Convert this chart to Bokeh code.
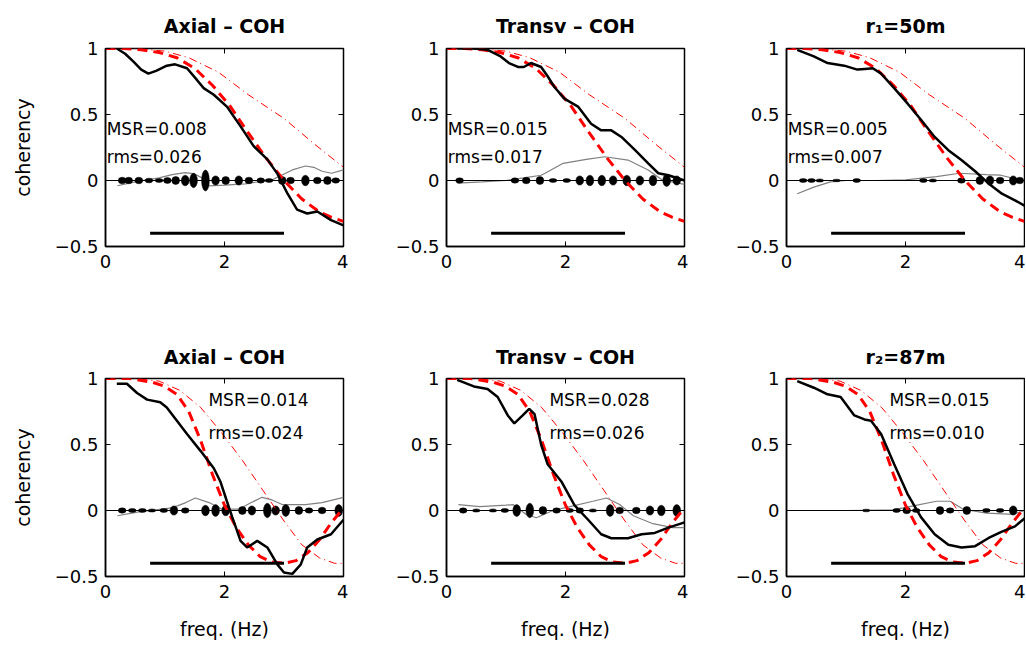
from bokeh.plotting import figure
from bokeh.layouts import column, row
from bokeh.models import Range1d, FixedTicker, Span
from bokeh.embed import file_html
from bokeh.resources import INLINE
from bokeh.core.properties import value

# ---------------- data ----------------
x_ticks = [0, 2, 4]
y_ticks = [-0.5, 0, 0.5, 1]
y_tick_labels = {-0.5: "\u22120.5", 0: "0", 0.5: "0.5", 1: "1"}

titles = ["Axial \u2013 COH", "Transv \u2013 COH", "r\u2081=50m",
          "Axial \u2013 COH", "Transv \u2013 COH", "r\u2082=87m"]
msr_labels = ["MSR=0.008", "MSR=0.015", "MSR=0.005", "MSR=0.014", "MSR=0.028", "MSR=0.015"]
rms_labels = ["rms=0.026", "rms=0.017", "rms=0.007", "rms=0.024", "rms=0.026", "rms=0.010"]

band_lo, band_hi, band_level = 0.75, 3.0, -0.4

# model curves (red dashed = fit, red dash-dot = alternative) for r1 and r2
fit_r1_x = [0, 0.3, 0.6, 0.9, 1.2, 1.5, 1.8, 2.1, 2.4, 2.7, 3.0, 3.3, 3.6, 3.8, 4.0]
fit_r1_y = [1.0, 1.0, 0.99, 0.97, 0.93, 0.85, 0.72, 0.56, 0.36, 0.17, 0.0, -0.14, -0.24, -0.28, -0.31]
alt_r1_x = [0, 0.5, 1.0, 1.4, 1.9, 2.4, 3.0, 3.5, 4.0]
alt_r1_y = [1.0, 1.0, 0.98, 0.93, 0.82, 0.65, 0.47, 0.28, 0.10]

fit_r2_x = [0, 0.4, 0.8, 1.0, 1.2, 1.4, 1.6, 1.8, 2.0, 2.2, 2.4, 2.6, 2.8, 3.0, 3.2, 3.4, 3.6, 3.8, 4.0]
fit_r2_y = [1.0, 1.0, 0.97, 0.94, 0.88, 0.75, 0.53, 0.27, 0.04, -0.13, -0.26, -0.35, -0.39, -0.40, -0.38, -0.32, -0.22, -0.09, 0.02]
alt_r2_x = [0, 0.5, 0.9, 1.25, 1.6, 1.95, 2.3, 2.65, 3.0, 3.3, 3.6, 3.85, 4.0]
alt_r2_y = [1.0, 1.0, 0.98, 0.91, 0.78, 0.59, 0.38, 0.15, -0.08, -0.26, -0.36, -0.40, -0.40]

# observed coherency (black)
obs1_x = [0.19, 0.33, 0.47, 0.60, 0.72, 0.85, 1.03, 1.17, 1.37, 1.54, 1.65, 1.82, 2.04, 2.27, 2.49, 2.72, 2.89, 3.06, 3.22, 3.39, 3.56, 3.79, 4.0]
obs1_y = [1.0, 0.96, 0.90, 0.84, 0.81, 0.83, 0.87, 0.88, 0.85, 0.76, 0.70, 0.65, 0.56, 0.41, 0.26, 0.16, 0.05, -0.10, -0.22, -0.25, -0.235, -0.30, -0.34]
obs2_x = [0.18, 0.45, 0.69, 0.91, 1.05, 1.2, 1.3, 1.42, 1.59, 1.7, 1.81, 1.98, 2.21, 2.43, 2.60, 2.77, 2.94, 3.17, 3.39, 3.56, 3.73, 4.0]
obs2_y = [1.0, 1.0, 0.99, 0.94, 0.89, 0.86, 0.86, 0.89, 0.86, 0.79, 0.71, 0.62, 0.56, 0.43, 0.38, 0.38, 0.33, 0.23, 0.13, 0.055, 0.04, 0.0]
obs3_x = [0.18, 0.46, 0.69, 0.97, 1.19, 1.32, 1.45, 1.59, 1.81, 2.04, 2.26, 2.49, 2.72, 2.94, 3.17, 3.39, 3.62, 3.84, 4.0]
obs3_y = [0.99, 0.94, 0.89, 0.87, 0.84, 0.845, 0.85, 0.81, 0.70, 0.58, 0.46, 0.33, 0.23, 0.155, 0.07, -0.02, -0.10, -0.15, -0.19]
obs4_x = [0.19, 0.36, 0.53, 0.70, 0.92, 1.03, 1.20, 1.37, 1.60, 1.82, 1.93, 2.04, 2.13, 2.27, 2.38, 2.55, 2.72, 2.89, 3.0, 3.14, 3.28, 3.39, 3.56, 3.79, 4.0]
obs4_y = [0.96, 0.96, 0.89, 0.84, 0.82, 0.78, 0.68, 0.58, 0.45, 0.32, 0.22, 0.07, -0.05, -0.23, -0.28, -0.23, -0.28, -0.41, -0.47, -0.48, -0.41, -0.28, -0.22, -0.18, -0.07]
obs5_x = [0.18, 0.46, 0.69, 0.86, 1.03, 1.14, 1.28, 1.39, 1.48, 1.59, 1.70, 1.93, 2.15, 2.38, 2.60, 2.77, 3.05, 3.28, 3.5, 3.73, 4.0]
obs5_y = [0.99, 0.94, 0.92, 0.86, 0.72, 0.66, 0.72, 0.77, 0.73, 0.50, 0.35, 0.22, 0.04, -0.07, -0.18, -0.21, -0.21, -0.18, -0.17, -0.13, -0.09]
obs6_x = [0.18, 0.46, 0.69, 0.91, 1.14, 1.31, 1.42, 1.59, 1.81, 2.04, 2.26, 2.49, 2.72, 2.94, 3.17, 3.39, 3.62, 3.84, 4.0]
obs6_y = [0.98, 0.93, 0.88, 0.86, 0.72, 0.69, 0.68, 0.58, 0.35, 0.12, -0.05, -0.18, -0.26, -0.28, -0.27, -0.21, -0.16, -0.12, -0.06]

# residual (gray)
res1_x = [0.2, 0.56, 0.9, 1.12, 1.34, 1.5, 1.62, 1.74, 2.0, 2.35, 2.8, 3.14, 3.36, 3.5, 3.64, 3.8, 4.0]
res1_y = [-0.04, -0.005, 0.02, 0.045, 0.06, 0.05, 0.02, -0.04, -0.035, -0.025, 0.005, 0.08, 0.11, 0.10, 0.07, 0.055, 0.08]
res2_x = [0.18, 0.6, 1.0, 1.3, 1.59, 1.68, 1.96, 2.35, 2.66, 3.05, 3.39, 3.62, 4.0]
res2_y = [-0.02, -0.01, 0.0, 0.02, 0.04, 0.06, 0.13, 0.16, 0.18, 0.155, 0.08, 0.005, -0.03]
res3_x = [0.18, 0.46, 0.74, 1.0, 1.5, 2.0, 2.52, 2.91, 3.36, 3.6, 3.92, 4.0]
res3_y = [-0.10, -0.05, -0.01, 0.0, 0.0, 0.005, 0.03, 0.055, 0.045, 0.04, 0.005, 0.0]
res4_x = [0.2, 0.56, 1.12, 1.35, 1.51, 1.74, 1.96, 2.24, 2.45, 2.63, 2.8, 2.97, 3.36, 3.64, 4.0]
res4_y = [-0.04, -0.01, 0.02, 0.06, 0.095, 0.06, 0.01, 0.01, 0.06, 0.10, 0.08, 0.045, 0.045, 0.06, 0.10]
res5_x = [0.2, 0.56, 1.0, 1.12, 1.34, 1.51, 1.79, 2.13, 2.46, 2.69, 2.91, 3.14, 3.47, 3.8, 4.0]
res5_y = [0.045, 0.03, 0.04, 0.045, -0.03, -0.055, 0.0, 0.035, 0.07, 0.095, 0.045, -0.04, -0.10, -0.13, -0.13]
res6_x = [0.2, 1.0, 1.8, 2.13, 2.52, 2.75, 2.97, 3.36, 3.81, 4.0]
res6_y = [0.0, 0.0, 0.005, 0.035, 0.07, 0.07, 0.01, -0.02, -0.03, 0.0]

# signal bursts around zero (centre frequency, half amplitude)
burst1_x = [0.28, 0.39, 0.56, 0.73, 0.90, 1.04, 1.18, 1.34, 1.48, 1.68, 1.85, 2.02, 2.24, 2.41, 2.61, 2.75, 2.97, 3.11, 3.36, 3.56, 3.73, 3.87]
burst1_a = [0.025, 0.025, 0.025, 0.018, 0.015, 0.022, 0.03, 0.04, 0.055, 0.08, 0.035, 0.03, 0.035, 0.025, 0.02, 0.015, 0.03, 0.025, 0.04, 0.025, 0.03, 0.02]
burst2_x = [0.22, 1.15, 1.34, 1.57, 1.79, 2.02, 2.24, 2.41, 2.61, 2.80, 3.03, 3.25, 3.47, 3.70, 3.87]
burst2_a = [0.02, 0.02, 0.025, 0.03, 0.015, 0.015, 0.035, 0.04, 0.04, 0.035, 0.04, 0.035, 0.04, 0.045, 0.035]
burst3_x = [0.28, 0.42, 0.56, 0.84, 1.18, 2.30, 2.46, 2.94, 3.25, 3.42, 3.59, 3.81, 3.92]
burst3_a = [0.015, 0.015, 0.012, 0.01, 0.015, 0.015, 0.012, 0.02, 0.03, 0.035, 0.025, 0.035, 0.025]
burst4_x = [0.28, 0.45, 0.62, 0.78, 0.98, 1.15, 1.34, 1.68, 1.85, 2.02, 2.30, 2.46, 2.72, 2.86, 3.03, 3.25, 3.42, 3.64, 3.92]
burst4_a = [0.02, 0.015, 0.015, 0.012, 0.015, 0.035, 0.02, 0.04, 0.045, 0.04, 0.03, 0.035, 0.055, 0.035, 0.045, 0.03, 0.02, 0.025, 0.045]
burst5_x = [0.28, 0.50, 0.78, 0.98, 1.18, 1.40, 1.62, 1.85, 2.07, 2.24, 2.46, 2.75, 2.91, 3.19, 3.42, 3.61, 3.87]
burst5_a = [0.02, 0.012, 0.012, 0.015, 0.045, 0.055, 0.03, 0.02, 0.015, 0.02, 0.012, 0.045, 0.025, 0.025, 0.035, 0.04, 0.045]
burst6_x = [1.34, 1.85, 2.02, 2.18, 2.58, 2.75, 3.03, 3.36, 3.59, 3.81]
burst6_a = [0.01, 0.015, 0.025, 0.015, 0.03, 0.02, 0.03, 0.015, 0.015, 0.035]

panels = [
    (obs1_x, obs1_y, res1_x, res1_y, burst1_x, burst1_a, fit_r1_x, fit_r1_y, alt_r1_x, alt_r1_y),
    (obs2_x, obs2_y, res2_x, res2_y, burst2_x, burst2_a, fit_r1_x, fit_r1_y, alt_r1_x, alt_r1_y),
    (obs3_x, obs3_y, res3_x, res3_y, burst3_x, burst3_a, fit_r1_x, fit_r1_y, alt_r1_x, alt_r1_y),
    (obs4_x, obs4_y, res4_x, res4_y, burst4_x, burst4_a, fit_r2_x, fit_r2_y, alt_r2_x, alt_r2_y),
    (obs5_x, obs5_y, res5_x, res5_y, burst5_x, burst5_a, fit_r2_x, fit_r2_y, alt_r2_x, alt_r2_y),
    (obs6_x, obs6_y, res6_x, res6_y, burst6_x, burst6_a, fit_r2_x, fit_r2_y, alt_r2_x, alt_r2_y),
]

# ---------------- layout / style ----------------
FONT = "DejaVu Sans"
TICK_PT = "18px"
TEXT_PT = "17px"
LABEL_PT = "19px"
TITLE_PT = "19px"

FRAME_W, FRAME_H = 238, 198
X0, X1, Y0, Y1 = 0, 4, -0.5, 1
widths = [348, 340, 337]
borders_lr = [(105, 5), (98, 4), (98, 1)]
row_h = [308, 336]
borders_tb = [(48, 62), (70, 68)]
title_standoff = [19, 18]
text_pos = [(0.02, 0.39, 0.175), (1.73, 0.84, 0.585)]
TICK_LEN = 5  # px, inward


def make(i):
    r, c = divmod(i, 3)
    ox, oy, rx, ry, bx, ba, fx, fy, ax_, ay = panels[i]
    p = figure(width=widths[c], height=row_h[r], output_backend="svg",
               toolbar_location=None, x_range=Range1d(X0, X1), y_range=Range1d(Y0, Y1),
               min_border_left=borders_lr[c][0], min_border_right=borders_lr[c][1],
               min_border_top=borders_tb[r][0], min_border_bottom=borders_tb[r][1],
               background_fill_color="white", border_fill_color="white")
    p.grid.visible = False
    p.outline_line_color = "black"
    p.outline_line_width = 1.5
    p.outline_line_alpha = 1.0

    p.title.text = titles[i]
    p.title.align = "center"
    p.title.vertical_align = "top"
    p.title.text_font = FONT
    p.title.text_font_size = TITLE_PT
    p.title.text_font_style = "bold"
    p.title.text_color = "black"
    p.title.standoff = title_standoff[r]

    for ax in (p.xaxis[0], p.yaxis[0]):
        ax.major_tick_in = TICK_LEN
        ax.major_tick_out = 0
        ax.minor_tick_line_color = None
        ax.axis_line_width = 1.5
        ax.major_tick_line_width = 1
        ax.major_label_text_font = FONT
        ax.major_label_text_font_size = TICK_PT
        ax.major_label_text_color = "black"
        ax.axis_label_text_font = FONT
        ax.axis_label_text_font_size = LABEL_PT
        ax.axis_label_text_font_style = "normal"
        ax.axis_label_text_color = "black"
    p.xaxis[0].ticker = FixedTicker(ticks=x_ticks)
    p.yaxis[0].ticker = FixedTicker(ticks=y_ticks)
    p.yaxis[0].major_label_overrides = y_tick_labels
    p.yaxis[0].major_label_standoff = 7
    p.xaxis[0].major_label_standoff = 8
    if c == 0:
        p.yaxis[0].axis_label = "coherency"
        p.yaxis[0].axis_label_standoff = 18
    if r == 1:
        p.xaxis[0].axis_label = "freq. (Hz)"
        p.xaxis[0].axis_label_standoff = 17

    # inward ticks on the top and right sides of the box
    dx = TICK_LEN * (X1 - X0) / FRAME_W
    dy = TICK_LEN * (Y1 - Y0) / FRAME_H
    p.segment(x0=[X1] * len(y_ticks), y0=y_ticks, x1=[X1 - dx] * len(y_ticks), y1=y_ticks,
              line_color="black", line_width=1)
    p.segment(x0=x_ticks, y0=[Y1] * len(x_ticks), x1=x_ticks, y1=[Y1 - dy] * len(x_ticks),
              line_color="black", line_width=1)

    p.add_layout(Span(location=0, dimension="width", line_color="black", line_width=1.2))

    p.line(rx, ry, line_color="#808080", line_width=1.2)
    p.ellipse(x=bx, y=[0] * len(bx), width=0.13, height=[2 * a for a in ba],
              fill_color="black", line_color="black", line_width=0.5)
    p.line(ax_, ay, line_color="red", line_width=1, line_dash="8 4 1 4")
    p.line(fx, fy, line_color="red", line_width=3, line_dash="10 6")
    p.line(ox, oy, line_color="black", line_width=2.5)
    p.line([band_lo, band_hi], [band_level, band_level], line_color="black", line_width=3)

    tx, ty1, ty2 = text_pos[r]
    p.text(x=[tx, tx], y=[ty1, ty2], text=[msr_labels[i], rms_labels[i]],
           text_font=value(FONT), text_font_size=TEXT_PT, text_color="black",
           text_align="left", text_baseline="alphabetic")
    return p


figs = [make(i) for i in range(6)]
layout = column(row(*figs[:3]), row(*figs[3:]))
open("out.html", "w").write(file_html(layout, INLINE))
